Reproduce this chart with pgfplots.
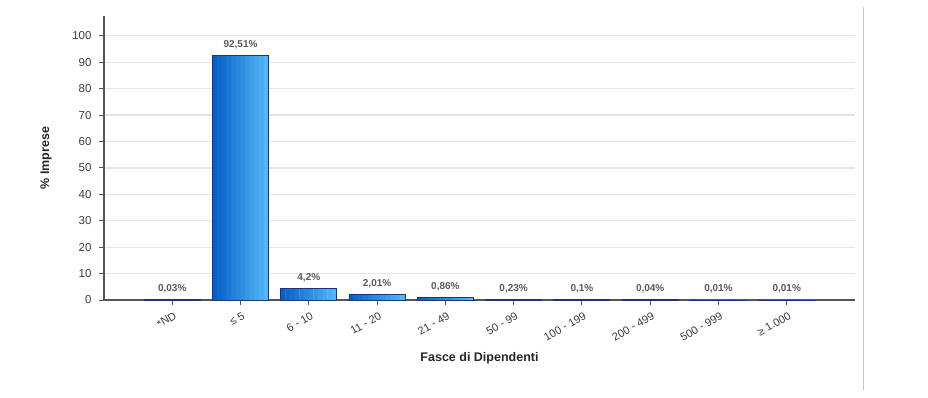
\documentclass[border=0pt]{standalone}
\usepackage{pgfplots}
\usepackage{pgfplotstable}
\pgfplotsset{compat=1.18}
\usepackage{fontspec}
\setmainfont{Liberation Sans}
\definecolor{barL}{RGB}{8,96,200}
\definecolor{barR}{RGB}{82,182,248}
\definecolor{barE}{RGB}{30,50,130}
\definecolor{gridc}{RGB}{228,228,228}
\definecolor{axc}{RGB}{85,85,85}
\definecolor{txt}{RGB}{60,60,60}
\pgfplotstableread{
x y
0 0.03
1 92.51
2 4.2
3 2.01
4 0.86
5 0.23
6 0.1
7 0.04
8 0.01
9 0.01
}\datatable
\begin{document}
\begin{tikzpicture}
\path[use as bounding box] (0,0) rectangle (928pt,397pt);
\draw[color=black!22, line width=1pt] (863pt,7pt) -- (863pt,390pt);
\begin{axis}[
  at={(104pt,97pt)}, anchor=south west,
  width=751pt, height=284pt, scale only axis,
  xmin=-1, xmax=10, ymin=0, ymax=107.5,
  axis x line*=bottom, axis y line*=left,
  axis line style={-, color=axc, line width=1.2pt},
  tick align=outside, major tick length=5pt,
  tick style={color=axc, line width=0.9pt},
  ytick={0,10,...,100},
  xtick={0,...,9},
  xticklabels={*ND,≤ 5,6 - 10,11 - 20,21 - 49,50 - 99,100 - 199,200 - 499,500 - 999,≥ 1.000},
  xticklabel style={rotate=30, anchor=north east, font=\fontsize{11}{12}\selectfont, color=txt, inner sep=1pt, yshift=-5pt, xshift=-1pt},
  yticklabel style={font=\fontsize{11.5}{12}\selectfont, color=txt, xshift=-4pt},
  /pgf/number format/assume math mode=true,
  ymajorgrids, grid style={color=gridc, line width=1.3pt},
  xlabel={Fasce di Dipendenti}, ylabel={\% Imprese},
  xlabel style={at={(rel axis cs:0.5,0)}, anchor=center, yshift=-58pt, font=\bfseries\fontsize{12.5}{13}\selectfont, color=black!85},
  ylabel style={at={(axis description cs:-0.077,0.5)}, anchor=center, font=\bfseries\fontsize{12.5}{13}\selectfont, color=black!85},
  ybar, bar width=0.075,
  clip=false,
]
\addplot[fill=barR!0!barL, draw=none, bar shift=-0.375833] table[x=x,y=y] {\datatable};
\addplot[fill=barR!9!barL, draw=none, bar shift=-0.3075] table[x=x,y=y] {\datatable};
\addplot[fill=barR!18!barL, draw=none, bar shift=-0.239167] table[x=x,y=y] {\datatable};
\addplot[fill=barR!27!barL, draw=none, bar shift=-0.170833] table[x=x,y=y] {\datatable};
\addplot[fill=barR!36!barL, draw=none, bar shift=-0.1025] table[x=x,y=y] {\datatable};
\addplot[fill=barR!45!barL, draw=none, bar shift=-0.034167] table[x=x,y=y] {\datatable};
\addplot[fill=barR!55!barL, draw=none, bar shift=0.034167] table[x=x,y=y] {\datatable};
\addplot[fill=barR!64!barL, draw=none, bar shift=0.1025] table[x=x,y=y] {\datatable};
\addplot[fill=barR!73!barL, draw=none, bar shift=0.170833] table[x=x,y=y] {\datatable};
\addplot[fill=barR!82!barL, draw=none, bar shift=0.239167] table[x=x,y=y] {\datatable};
\addplot[fill=barR!91!barL, draw=none, bar shift=0.3075] table[x=x,y=y] {\datatable};
\addplot[fill=barR!100!barL, draw=none, bar shift=0.375833, bar width=0.068] table[x=x,y=y] {\datatable};
\addplot[fill=none, draw=barE, line width=0.9pt, bar shift=0pt, bar width=0.82,
  point meta=y,
  nodes near coords={\pgfmathprintnumber[use comma, fixed, precision=2]{\pgfplotspointmeta}\%},
  every node near coord/.append style={font=\bfseries\fontsize{10}{11}\selectfont, color=black!65, yshift=3pt}
] table[x=x,y=y] {\datatable};
\end{axis}
\end{tikzpicture}
\end{document}
